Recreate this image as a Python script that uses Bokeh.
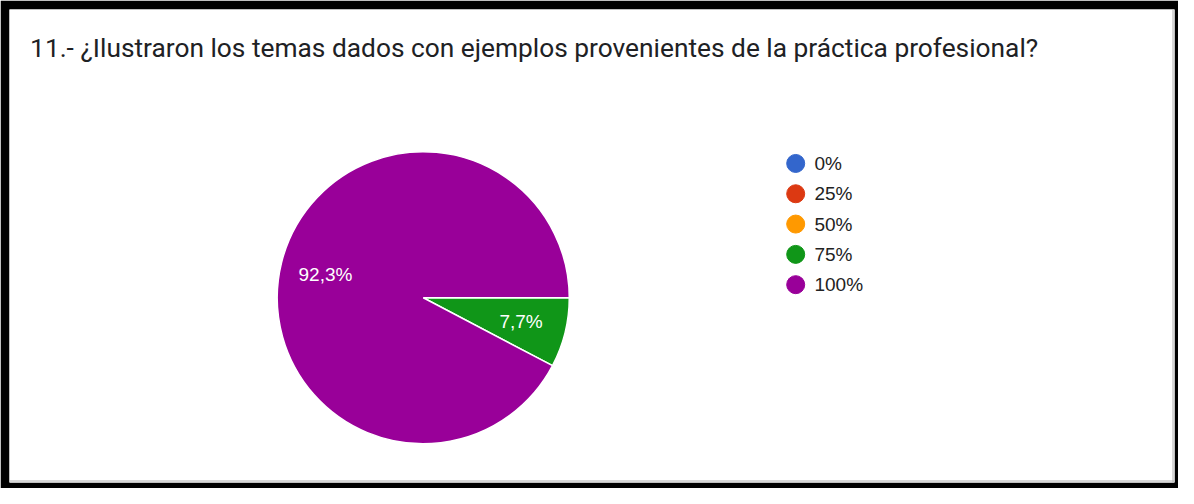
import math
from bokeh.plotting import figure
from bokeh.models import ColumnDataSource, Range1d, Label, Span
from bokeh.core.properties import value
from bokeh.embed import file_html
from bokeh.resources import INLINE

# ---- data ----
title_text = "11.- ¿Ilustraron los temas dados con ejemplos provenientes de la práctica profesional?"
categories = ["0%", "25%", "50%", "75%", "100%"]
percent = [0.0, 0.0, 0.0, 7.7, 92.3]
colors = ["#3366cc", "#dc3912", "#ff9900", "#109618", "#990099"]

# ---- layout: data coordinates are reference-image pixels (1194 x 504) ----
REF_W, REF_H = 1194, 504
W, H = 1178, 488
sx, sy = W / REF_W, H / REF_H
BL, BT, BR, BB = 9, 9, 4, 6


def Y(ref_y):
    return REF_H - ref_y


p = figure(width=W, height=H, output_backend="svg", toolbar_location=None,
           x_range=Range1d(BL / sx, (W - BR) / sx),
           y_range=Range1d(Y((H - BB) / sy), Y(BT / sy)),
           x_axis_location=None, y_axis_location=None, tools="")
p.title.visible = False
p.min_border_left = BL
p.min_border_right = BR
p.min_border_top = BT
p.min_border_bottom = BB
p.border_fill_color = "black"
p.background_fill_color = "white"
p.outline_line_color = None
p.grid.visible = False

# thin card edge lines
p.add_layout(Span(location=(W - BR - 1.5) / sx, dimension="height",
                  line_color="#b0b0b0", line_width=1))
p.add_layout(Span(location=Y((H - BB - 1.5) / sy), dimension="width",
                  line_color="#b0b0b0", line_width=1))

# title
p.add_layout(Label(x=30, y=Y(49.5), text=title_text, text_font="Roboto",
                   text_font_size="26.3px", text_color="#202124",
                   text_baseline="alphabetic", text_align="left"))

# ---- pie ----
cx, cy, R = 428.5, Y(307), 148
total = sum(percent)
nz = [i for i, v in enumerate(percent) if v > 0]
theta0 = -2 * math.pi * percent[3] / total
starts, ends, wcol, labs, lx, ly = [], [], [], [], [], []
a = theta0
for i in nz:
    span = 2 * math.pi * percent[i] / total
    starts.append(a)
    ends.append(a + span)
    wcol.append(colors[i])
    mid = a + span / 2
    rr = 0.69 * R
    lx.append(cx + rr * math.cos(mid))
    ly.append(cy + rr * math.sin(mid))
    labs.append(f"{percent[i]:.1f}".replace(".", ",") + "%")
    a += span

wsrc = ColumnDataSource(dict(start=starts, end=ends, color=wcol, lab=labs, lx=lx, ly=ly))
p.wedge(x=cx, y=cy, radius=R, start_angle="start", end_angle="end",
        fill_color="color", line_color="white", line_width=1.5, source=wsrc)
p.text(x="lx", y="ly", text="lab", source=wsrc, text_color="white",
       text_font=value("Liberation Sans"), text_font_size="19px",
       text_align="center", text_baseline="middle")

# ---- legend ----
lg_y = [Y(168.3 + 31.3 * i) for i in range(len(categories))]
lsrc = ColumnDataSource(dict(x=[806] * len(categories), tx=[825] * len(categories),
                             y=lg_y, color=colors, lab=categories))
p.scatter(x="x", y="y", size=18, marker="circle", fill_color="color",
          line_color="color", source=lsrc)
p.text(x="tx", y="y", text="lab", source=lsrc, text_color="#222222",
       text_font=value("Liberation Sans"), text_font_size="19px",
       text_align="left", text_baseline="middle")

open("out.html", "w").write(file_html(p, INLINE))
